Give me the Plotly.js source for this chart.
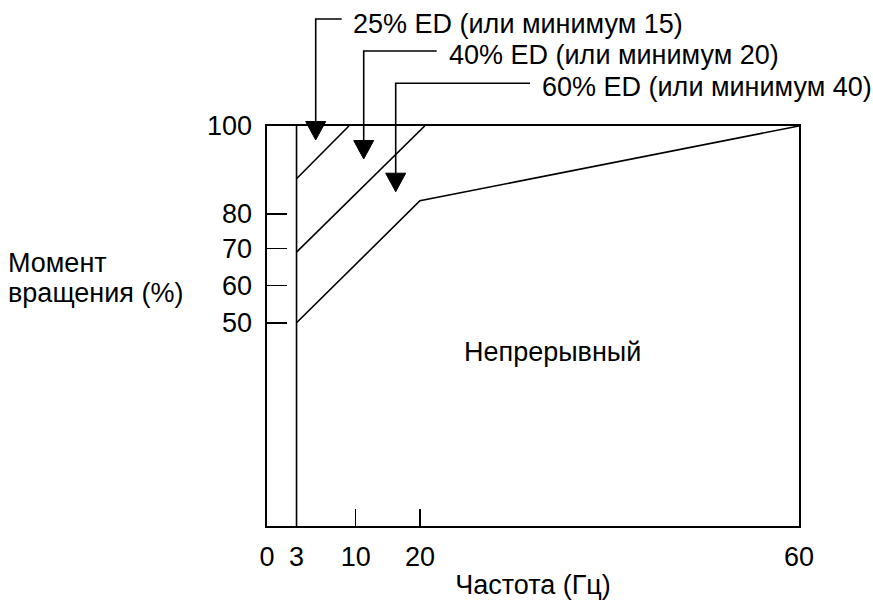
<!DOCTYPE html>
<html>
<head>
<meta charset="utf-8">
<script src="https://cdn.plot.ly/plotly-3.0.1.min.js"></script>
<style>html,body{margin:0;padding:0;background:#fff;}#chart{width:873px;height:600px;}</style>
</head>
<body>
<div id="chart"></div>
<script>
// ---- data ----
const freqTicks = [0, 3, 10, 20, 60];           // Hz
const torqueTicks = [50, 60, 70, 80, 100];      // %
const minFreq = 3;                               // Hz, lower limit line
const ed25Freq = [3, 9.2];
const ed25Torque = [88, 100];
const ed40Freq = [3, 20.5];
const ed40Torque = [69, 100];
const ed60Freq = [3, 20, 60];
const ed60Torque = [50, 83, 100];
const regionLabels = ['25% ED (или минимум 15)', '40% ED (или минимум 20)', '60% ED (или минимум 40)'];
const continuousLabel = 'Непрерывный';
const xTitle = 'Частота (Гц)';
const yTitleLines = ['Момент', 'вращения (%)'];

// ---- schematic (non-uniform) scales of the original drawing ----
const xScaleHz = [0, 3, 10, 20, 60];
const xScalePos = [0, 3.33, 10.0, 17.25, 60];
const yScalePct = [0, 50, 60, 70, 80, 100];
const yScalePos = [0, 50.8, 60.1, 69.4, 78, 100];
function interp(v, a, b) {
  for (let i = 0; i < a.length - 1; i++) {
    if (v <= a[i + 1] || i === a.length - 2) {
      return b[i] + (v - a[i]) / (a[i + 1] - a[i]) * (b[i + 1] - b[i]);
    }
  }
}
const fx = v => interp(v, xScaleHz, xScalePos);
const fy = v => interp(v, yScalePct, yScalePos);

const FONT = 'Liberation Sans, Arial, sans-serif';
const FS = 27;
const L = 267, R = 74, T = 126, B = 74, W = 873, H = 600;
const pw = W - L - R, ph = H - T - B;
const px = x => (x - L) / pw;
const py = y => (H - B - y) / ph;

const lineStyle = {color: '#000', width: 1.6};
const traces = [
  {x: [minFreq, minFreq].map(fx), y: [0, 100].map(fy), mode: 'lines', line: lineStyle, hoverinfo: 'skip'},
  {x: ed25Freq.map(fx), y: ed25Torque.map(fy), mode: 'lines', line: lineStyle, name: regionLabels[0]},
  {x: ed40Freq.map(fx), y: ed40Torque.map(fy), mode: 'lines', line: lineStyle, name: regionLabels[1]},
  {x: ed60Freq.map(fx), y: ed60Torque.map(fy), mode: 'lines', line: lineStyle, name: regionLabels[2]}
];

// leader arrows (pixel layout of the callouts)
const arrows = [
  {ax: 315.7, hy: 19, hx: 341.7, tip: 140, tx: 352, ty: 24},
  {ax: 363.7, hy: 51, hx: 436.7, tip: 159, tx: 448, ty: 55},
  {ax: 395.7, hy: 83.3, hx: 530, tip: 191.7, tx: 541, ty: 87}
];
const shapes = [];
const annotations = [];
arrows.forEach((a, i) => {
  const top = a.tip - 18.5;
  shapes.push({type: 'path', xref: 'paper', yref: 'paper',
    path: `M ${px(a.hx)} ${py(a.hy)} L ${px(a.ax)} ${py(a.hy)} L ${px(a.ax)} ${py(top)}`,
    line: {color: '#000', width: 1.6}});
  shapes.push({type: 'path', xref: 'paper', yref: 'paper',
    path: `M ${px(a.ax - 10)} ${py(top)} L ${px(a.ax + 10)} ${py(top)} L ${px(a.ax)} ${py(a.tip)} Z`,
    fillcolor: '#000', line: {color: '#000', width: 1}});
  annotations.push({xref: 'paper', yref: 'paper', x: px(a.tx), y: py(a.ty), xanchor: 'left', yanchor: 'middle',
    text: regionLabels[i], showarrow: false, borderpad: 0, font: {family: FONT, size: FS, color: '#000'}});
});
annotations.push({xref: 'paper', yref: 'paper', x: px(552.5), y: py(352), xanchor: 'center', yanchor: 'middle',
  text: continuousLabel, showarrow: false, font: {family: FONT, size: FS, color: '#000'}});
annotations.push({xref: 'paper', yref: 'paper', x: px(7), y: py(263), xanchor: 'left', yanchor: 'middle',
  text: yTitleLines[0], showarrow: false, borderpad: 0, font: {family: FONT, size: FS, color: '#000'}});
annotations.push({xref: 'paper', yref: 'paper', x: px(7), y: py(293), xanchor: 'left', yanchor: 'middle',
  text: yTitleLines[1], showarrow: false, borderpad: 0, font: {family: FONT, size: FS, color: '#000'}});

const layout = {
  width: W, height: H,
  margin: {l: L, r: R, t: T, b: B, pad: 0},
  paper_bgcolor: '#fff', plot_bgcolor: '#fff',
  showlegend: false,
  font: {family: FONT, size: FS, color: '#000'},
  xaxis: {
    range: [0, 60], showgrid: false, zeroline: false,
    showline: true, mirror: true, linecolor: '#000', linewidth: 1.6,
    tickmode: 'array', tickvals: freqTicks.map(fx), ticktext: freqTicks.map(String),
    ticks: 'inside', ticklen: 17, tickwidth: 1.6, tickcolor: '#000',
    ticklabelstandoff: 6,
    tickfont: {family: FONT, size: FS, color: '#000'},
    title: {text: xTitle, font: {family: FONT, size: FS, color: '#000'}, standoff: 12}
  },
  yaxis: {
    range: [0, 100], showgrid: false, zeroline: false,
    showline: true, mirror: true, linecolor: '#000', linewidth: 1.6,
    tickmode: 'array', tickvals: torqueTicks.map(fy), ticktext: torqueTicks.map(String),
    ticks: 'inside', ticklen: 20, tickwidth: 1.6, tickcolor: '#000',
    ticklabelstandoff: 8,
    tickfont: {family: FONT, size: FS, color: '#000'}
  },
  shapes: shapes,
  annotations: annotations
};

Plotly.newPlot('chart', traces, layout, {staticPlot: true, displayModeBar: false});
</script>
</body>
</html>
